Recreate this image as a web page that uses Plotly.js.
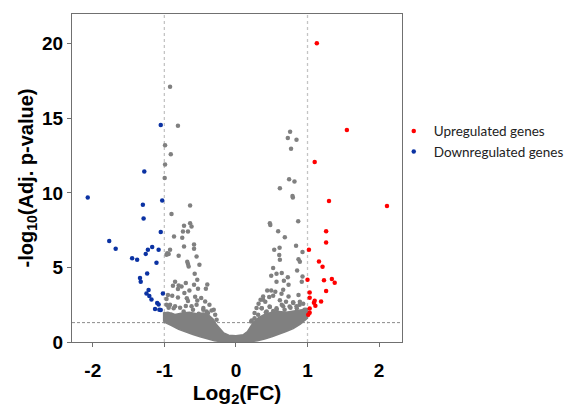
<!DOCTYPE html>
<html>
<head>
<meta charset="utf-8">
<script src="https://cdn.plot.ly/plotly-3.0.1.min.js"></script>
<style>html,body{margin:0;padding:0;background:#fff;}#chart{width:587px;height:407px;}</style>
</head>
<body>
<div id="chart"></div>
<script>
// Upregulated genes (red)
const upX = [1.13, 1.55, 1.10, 1.30, 2.11, 1.26, 1.26, 1.02, 1.16, 1.21, 1.00, 1.23, 1.34, 1.38, 1.26, 1.03, 1.03, 1.10, 1.19, 1.09, 1.11, 1.03, 1.03, 1.01];
const upY = [20.03, 14.22, 12.08, 9.46, 9.13, 7.43, 6.67, 6.18, 5.40, 5.04, 4.17, 4.15, 4.22, 3.97, 3.42, 3.32, 2.97, 2.77, 2.72, 2.63, 2.43, 2.25, 1.96, 1.83];

// Downregulated genes (blue)
const downX = [-1.05, -1.28, -2.07, -1.30, -1.29, -1.03, -1.05, -1.77, -1.68, -1.17, -1.23, -1.26, -1.08, -1.45, -1.38, -1.11, -1.24, -1.34, -1.33, -1.22, -1.25, -1.21, -1.02, -1.18, -1.10, -1.08, -1.13, -1.07, -1.05];
const downY = [14.55, 11.43, 9.69, 9.20, 8.28, 9.49, 7.37, 6.78, 6.25, 6.38, 6.18, 5.91, 6.18, 5.62, 5.51, 5.31, 4.60, 4.29, 4.04, 3.48, 3.26, 3.08, 3.26, 2.85, 2.61, 2.52, 2.21, 2.16, 2.14];

// Non-significant genes (grey), scattered points
const grayX = [-0.92, -0.81, -0.99, -0.91, -0.99, -0.995, -0.90, -0.64, -0.865, -0.725, -0.64, -0.62, -0.74, -0.67, -0.75, -0.92, -0.96, -0.97, -0.94, -0.725, -0.585, -0.585, -0.80, -0.55, -0.68, -0.67, -0.66, -0.51, -0.576, -0.85, -0.88, -0.80, -0.76, -0.81, -0.70, -0.54, -0.585, -0.40, -0.42, -0.53, -0.65, -0.72, -0.95, -0.89, -0.97, -0.81, -0.686, -0.67, -0.57, -0.54, -0.485, -0.43, -0.92, -0.97, -0.85, -0.94, -0.78, -0.70, -0.62, -0.55, -0.455, -0.37, -0.41, -0.31,
  -0.94, -0.87, -0.73, -0.60, -0.456, -0.39, -0.34, -0.29, -0.27, -0.90, -0.78, -0.64, -0.52,
  0.757, 0.725, 0.846, 0.77, 0.743, 0.818, 0.614, 0.79, 0.795, 0.87, 0.474, 0.48, 0.59, 0.683, 0.84, 0.61, 0.535, 0.93, 0.605, 0.614, 0.874, 0.893, 0.52, 0.855, 0.493, 0.64, 0.567, 0.725, 0.93, 0.67, 0.567, 0.735, 0.92, 0.437, 0.493, 0.55, 0.66, 0.637, 0.52, 0.465, 0.38, 0.344, 0.735, 0.874, 0.41, 0.316, 0.614, 0.70, 0.80, 0.893, 0.94, 0.288, 0.36, 0.474, 0.567, 0.66, 0.762, 0.846, 0.26, 0.214, 0.418, 0.52, 0.958,
  0.22, 0.31, 0.36, 0.43, 0.47, 0.57, 0.64, 0.68, 0.75, 0.80, 0.85, 0.89, 0.94, 0.98, 0.26, 0.38];
const grayY = [17.12, 14.5, 13.2, 12.6, 11.9, 11.0, 8.59, 9.15, 7.07, 7.79, 7.97, 7.74, 7.41, 7.41, 7.0, 6.18, 5.96, 5.85, 5.9, 6.40, 6.54, 6.25, 5.78, 5.74, 5.38, 5.24, 5.06, 5.18, 4.57, 4.04, 3.77, 3.79, 3.72, 3.55, 3.95, 4.17, 3.84, 3.86, 3.57, 3.57, 3.46, 3.28, 3.15, 3.10, 2.88, 2.99, 2.93, 2.75, 3.04, 2.78, 2.95, 2.72, 2.50, 2.50, 2.39, 2.30, 2.30, 2.42, 2.39, 2.5, 2.28, 2.5, 2.05, 2.16,
  2.38, 2.27, 2.05, 2.16, 2.16, 1.94, 2.12, 1.83, 1.5, 1.83, 1.72, 1.83, 1.9,
  14.1, 13.68, 13.57, 12.97, 10.92, 10.76, 10.31, 9.80, 9.69, 8.10, 7.97, 7.84, 7.43, 7.03, 6.45, 6.32, 6.18, 6.03, 5.83, 5.51, 5.55, 5.38, 4.96, 4.8, 4.44, 4.62, 4.57, 4.35, 4.39, 4.1, 4.04, 3.84, 4.04, 3.46, 3.46, 3.37, 3.5, 3.23, 3.1, 3.02, 3.06, 2.83, 3.06, 3.15, 2.70, 2.57, 2.80, 2.70, 2.66, 2.70, 2.57, 2.28, 2.26, 2.35, 2.26, 2.39, 2.30, 2.39, 1.94, 1.38, 1.99, 2.08, 2.17,
  1.45, 1.83, 2.27, 2.05, 2.38, 2.16, 2.5, 2.16, 2.38, 2.61, 2.27, 2.5, 2.05, 2.16, 1.6, 2.83];

// Dense cloud of non-significant genes (outline of the solid grey mass)
const coreX = [-1.01, -1.01, -0.95, -0.85, -0.75, -0.65, -0.55, -0.45, -0.38, -0.32, -0.27, -0.22, -0.17, -0.1, 0.0, 0.1, 0.16, 0.2, 0.25, 0.32, 0.4, 0.5, 0.6, 0.7, 0.8, 0.9, 1.0, 1.0,
  0.9, 0.8, 0.7, 0.6, 0.5, 0.4, 0.3, 0.2, 0.0, -0.2, -0.3, -0.4, -0.5, -0.6, -0.7, -0.8, -0.9, -1.01];
const coreY = [1.35, 1.95, 2.0, 1.85, 1.95, 2.0, 1.9, 1.95, 1.8, 1.55, 1.15, 0.85, 0.6, 0.45, 0.42, 0.48, 0.7, 1.0, 1.35, 1.65, 1.85, 2.0, 2.05, 2.0, 2.05, 2.15, 2.2, 1.6,
  1.2, 0.9, 0.7, 0.5, 0.35, 0.2, 0.08, 0.02, 0.0, 0.02, 0.08, 0.2, 0.35, 0.5, 0.68, 0.85, 1.1, 1.35];

// Thresholds
const fcCut = [-1, 1];
const pCut = 1.3;

const xTicks = [-2, -1, 0, 1, 2];
const yTicks = [0, 5, 10, 15, 20];

const GREY = '#808080', RED = '#ff0000', BLUE = '#0b32a3';

const traces = [
  {x: coreX, y: coreY, type: 'scatter', mode: 'lines', fill: 'toself', fillcolor: GREY,
   line: {color: GREY, width: 1.5}, showlegend: false, hoverinfo: 'skip'},
  {x: grayX, y: grayY, type: 'scatter', mode: 'markers', marker: {color: GREY, size: 4.5}, showlegend: false},
  {x: upX, y: upY, type: 'scatter', mode: 'markers', name: 'Upregulated genes', marker: {color: RED, size: 4.5}},
  {x: downX, y: downY, type: 'scatter', mode: 'markers', name: 'Downregulated genes', marker: {color: BLUE, size: 4.5}}
];

const shapes = fcCut.map(v => ({type: 'line', xref: 'x', yref: 'paper', x0: v, x1: v, y0: 0, y1: 1,
  line: {color: '#c4c4c4', width: 1.3, dash: 'dot'}, layer: 'below'}));
shapes.push({type: 'line', xref: 'paper', yref: 'y', x0: 0, x1: 1, y0: pCut, y1: pCut,
  line: {color: '#8c8c8c', width: 1, dash: '3px,2px'}, layer: 'below'});

const tickFont = {family: 'Liberation Sans, Arial, sans-serif', size: 19, color: '#000', weight: 'bold'};

const layout = {
  width: 587, height: 407,
  margin: {l: 72, r: 185, t: 14, b: 65},
  paper_bgcolor: '#fff', plot_bgcolor: '#fff',
  showlegend: true,
  legend: {x: 0.975, y: 0.69, xanchor: 'left', yanchor: 'top', bgcolor: 'rgba(0,0,0,0)',
    font: {family: 'Lato, Carlito, sans-serif', size: 13.5, color: '#222'}, itemsizing: 'trace', tracegroupgap: 0},
  xaxis: {range: [-2.29, 2.32], tickvals: xTicks, ticktext: xTicks.map(String), showgrid: false, zeroline: false,
    showline: true, mirror: true, linecolor: '#707070', linewidth: 1, ticks: 'outside', ticklen: 4, tickcolor: '#707070',
    tickfont: tickFont, ticklabelstandoff: 7,
    title: {text: 'Log<sub>2</sub>(FC)', font: {family: 'Liberation Sans, Arial, sans-serif', size: 21, color: '#000', weight: 'bold'}, standoff: 12}},
  yaxis: {range: [0, 22], tickvals: yTicks, ticktext: yTicks.map(String), showgrid: false, zeroline: false,
    showline: true, mirror: true, linecolor: '#707070', linewidth: 1, ticks: 'outside', ticklen: 4, tickcolor: '#707070',
    tickfont: tickFont,
    title: {text: '-log<sub>10</sub>(Adj. p-value)', font: {family: 'Liberation Sans, Arial, sans-serif', size: 20, color: '#000', weight: 'bold'}, standoff: 3}},
  shapes: shapes
};

Plotly.newPlot('chart', traces, layout, {displayModeBar: false, staticPlot: true});
</script>
</body>
</html>
